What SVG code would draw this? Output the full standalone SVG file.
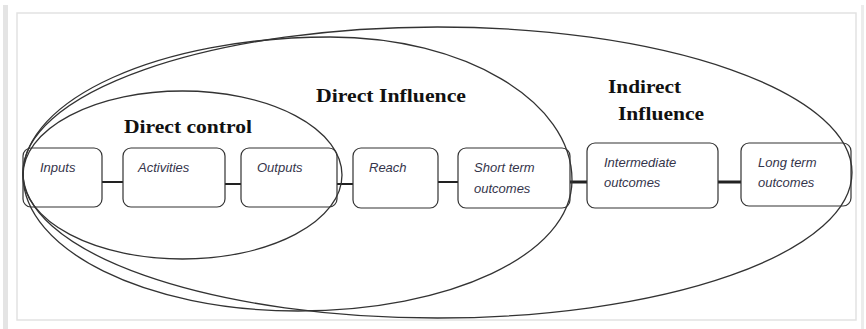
<svg xmlns="http://www.w3.org/2000/svg" width="866" height="329" viewBox="0 0 866 329">
<style>
.frame{fill:none;stroke:#e2e2e2;stroke-width:1.5}
.ell{fill:none;stroke:#333;stroke-width:1.3}
.box{fill:#fff;stroke:#333;stroke-width:1.2}
.lbl{font-family:"Liberation Sans",Arial,sans-serif;font-style:italic;font-size:13px;fill:#34344a}
.hd{font-family:"Liberation Serif","Times New Roman",serif;font-weight:bold;font-size:19px;fill:#111}
.con{stroke:#222;stroke-width:2;fill:none}
.con2{stroke:#222;stroke-width:3;fill:none}
</style>
<rect x="0" y="0" width="866" height="329" fill="#fff"/>
<rect x="3" y="5" width="5" height="324" fill="#e4e4e4"/>
<rect x="861" y="5" width="3" height="324" fill="#ececec"/>
<rect class="frame" x="17" y="13" width="839" height="307"/>
<g id="connectors">
<line class="con" x1="102" y1="182" x2="123" y2="182"/>
<line class="con" x1="225" y1="184" x2="241" y2="184"/>
<line class="con" x1="337" y1="184" x2="353" y2="184"/>
<line class="con" x1="438" y1="182" x2="458" y2="182"/>
<line class="con2" x1="570" y1="182" x2="587" y2="182"/>
<line class="con2" x1="718" y1="182" x2="741" y2="182"/>
</g>
<g id="n-inputs"><rect class="box" x="23" y="148" width="79" height="59" rx="8"/><text class="lbl" x="40" y="172">Inputs</text></g>
<g id="n-activities"><rect class="box" x="123" y="148" width="102" height="59" rx="8"/><text class="lbl" x="138" y="172">Activities</text></g>
<g id="n-outputs"><rect class="box" x="241" y="148" width="96" height="59" rx="8"/><text class="lbl" x="257" y="172">Outputs</text></g>
<g id="n-reach"><rect class="box" x="353" y="148" width="85" height="60" rx="8"/><text class="lbl" x="369" y="172">Reach</text></g>
<g id="n-short"><rect class="box" x="458" y="148" width="112" height="60" rx="8"/><text class="lbl" x="474" y="172">Short term</text><text class="lbl" x="474" y="193">outcomes</text></g>
<g id="n-intermediate"><rect class="box" x="587" y="143" width="131" height="65" rx="8"/><text class="lbl" x="604" y="167">Intermediate</text><text class="lbl" x="604" y="187">outcomes</text></g>
<g id="n-long"><rect class="box" x="741" y="143" width="110" height="63" rx="8"/><text class="lbl" x="758" y="167">Long term</text><text class="lbl" x="758" y="187">outcomes</text></g>
<g id="e-direct-control"><ellipse class="ell" cx="182.5" cy="175" rx="159.5" ry="84"/><text class="hd" x="124" y="133" textLength="128" lengthAdjust="spacingAndGlyphs">Direct control</text></g>
<g id="e-direct-influence"><path class="ell" d="M23,175 C23,99 160,37 330,37 C464,37 572,101 572,180 C572,255 449,311 298,311 C146,311 23,250 23,175 Z"/><text class="hd" x="316" y="102" textLength="150" lengthAdjust="spacingAndGlyphs">Direct Influence</text></g>
<g id="e-indirect-influence"><ellipse class="ell" cx="437.5" cy="172.5" rx="414.5" ry="145.5"/><text class="hd" x="608" y="93" textLength="73" lengthAdjust="spacingAndGlyphs">Indirect</text><text class="hd" x="618" y="120" textLength="86" lengthAdjust="spacingAndGlyphs">Influence</text></g>
</svg>
